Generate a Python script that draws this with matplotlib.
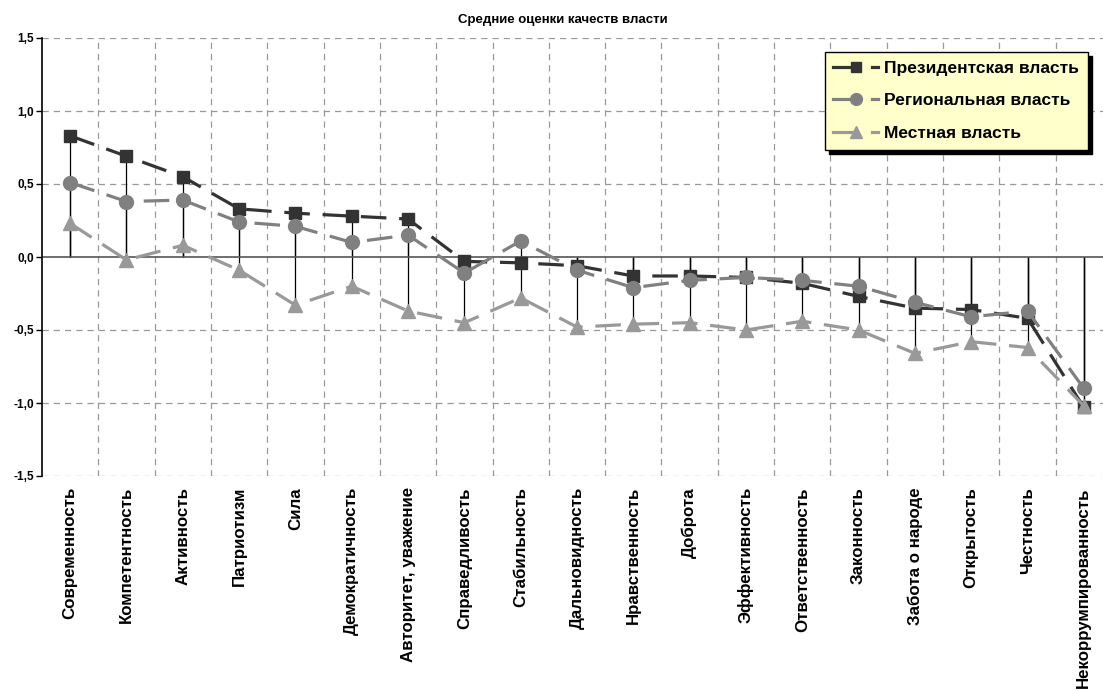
import numpy as np
import matplotlib.pyplot as plt
from matplotlib.ticker import FuncFormatter
from matplotlib.legend_handler import HandlerLine2D
from matplotlib.lines import Line2D

plt.rcParams['font.family'] = ['Liberation Sans', 'DejaVu Sans']

categories = ['Современность', 'Компетентность', 'Активность', 'Патриотизм', 'Сила',
              'Демократичность', 'Авторитет, уважение', 'Справедливость', 'Стабильность',
              'Дальновидность', 'Нравственность', 'Доброта', 'Эффективность',
              'Ответственность', 'Законность', 'Забота о народе', 'Открытость',
              'Честность', 'Некоррумпированность']

president = [0.83, 0.69, 0.55, 0.33, 0.30, 0.28, 0.26, -0.03, -0.04, -0.06,
             -0.13, -0.13, -0.14, -0.18, -0.27, -0.35, -0.36, -0.42, -1.03]
regional = [0.51, 0.38, 0.39, 0.24, 0.21, 0.10, 0.15, -0.11, 0.11, -0.09,
            -0.21, -0.16, -0.14, -0.16, -0.20, -0.31, -0.41, -0.37, -0.90]
local = [0.23, -0.02, 0.08, -0.09, -0.33, -0.20, -0.37, -0.45, -0.28, -0.48,
         -0.46, -0.45, -0.50, -0.44, -0.50, -0.66, -0.58, -0.62, -1.02]

series_names = ['Президентская власть', 'Региональная власть', 'Местная власть']


class RightMarkerHandler(HandlerLine2D):
    # excel-like legend key: solid stub, marker at its end, then a short dash
    def create_artists(self, legend, orig, xdescent, ydescent, width, height, fontsize, trans):
        y = height / 2 - ydescent
        x0 = -xdescent
        c = orig.get_color()
        lw = orig.get_linewidth()
        stub = Line2D([x0, x0 + width * 0.5], [y, y], color=c, lw=lw)
        mark = Line2D([x0 + width * 0.5], [y], marker=orig.get_marker(),
                      markersize=orig.get_markersize() * 0.85, color=c, linestyle='None')
        dash = Line2D([x0 + width * 0.86, x0 + width], [y, y], color=c, lw=lw)
        for a in (stub, mark, dash):
            a.set_transform(trans)
        return [stub, mark, dash]


fig = plt.figure(figsize=(11.03, 6.91), dpi=100)
# axes runs slightly past the right edge, like the original
ax = fig.add_axes([42 / 1103, 1 - 476 / 691, 1070 / 1103, 438 / 691])

x = np.arange(len(categories))

# drop lines from each point to zero
for vals in (president, regional, local):
    ax.vlines(x, 0, vals, color='black', linewidth=0.9, zorder=2)

styles = [
    dict(color='#333333', marker='s', markersize=9),
    dict(color='#808080', marker='o', markersize=10),
    dict(color='#999999', marker='^', markersize=10),
]
lines = []
for vals, name, st in zip((president, regional, local), series_names, styles):
    ln, = ax.plot(x, vals, linestyle=(0, (8, 4)), linewidth=2.3, label=name,
                  zorder=3, markeredgecolor=st['color'], **st)
    lines.append(ln)

# grid
for yv in (-1.5, -1.0, -0.5, 0.5, 1.0, 1.5):
    ax.axhline(yv, color='#999999', linewidth=0.9, linestyle=(0, (5, 4)), zorder=1)
for xv in np.arange(0.5, len(categories), 1.0):
    ax.axvline(xv, color='#999999', linewidth=0.9, linestyle=(0, (5, 4)), zorder=1)
ax.axhline(0, color='#555555', linewidth=1.2, zorder=2)

ax.set_xlim(-0.5, len(categories) - 0.5)
ax.set_ylim(-1.5, 1.5)
ax.set_yticks([-1.5, -1.0, -0.5, 0.0, 0.5, 1.0, 1.5])
ax.yaxis.set_major_formatter(FuncFormatter(lambda v, p: f'{v:.1f}'.replace('.', ',')))
ax.tick_params(axis='y', labelsize=8.5, length=4, width=1, direction='out', pad=2)
for lab in ax.get_yticklabels():
    lab.set_fontweight('bold')

ax.set_xticks(x)
ax.set_xticklabels(categories, rotation=90, fontsize=12.2, fontweight='bold')
ax.tick_params(axis='x', length=0, pad=8)

for s in ('top', 'right', 'bottom'):
    ax.spines[s].set_visible(False)
ax.spines['left'].set_color('black')
ax.spines['left'].set_linewidth(1.2)

fig.text(0.51, 1 - 20 / 691, 'Средние оценки качеств власти', ha='center', va='center',
         fontsize=9.5, fontweight='bold')

leg = fig.legend(handles=lines, loc='upper right', bbox_to_anchor=(1088 / 1103, 1 - 52 / 691),
                 frameon=True, fancybox=False,
                 shadow={'color': 'black', 'alpha': 1.0, 'ox': 3, 'oy': -3},
                 prop={'weight': 'bold', 'size': 12.5}, handlelength=2.6,
                 handler_map={Line2D: RightMarkerHandler()},
                 borderpad=0.5, labelspacing=1.0, handletextpad=0.35, borderaxespad=0)
leg.get_frame().set_facecolor('#FFFFCC')
leg.get_frame().set_edgecolor('black')
leg.get_frame().set_linewidth(1.0)
leg.get_frame().set_alpha(1)

fig.savefig('out.png', dpi=100)
